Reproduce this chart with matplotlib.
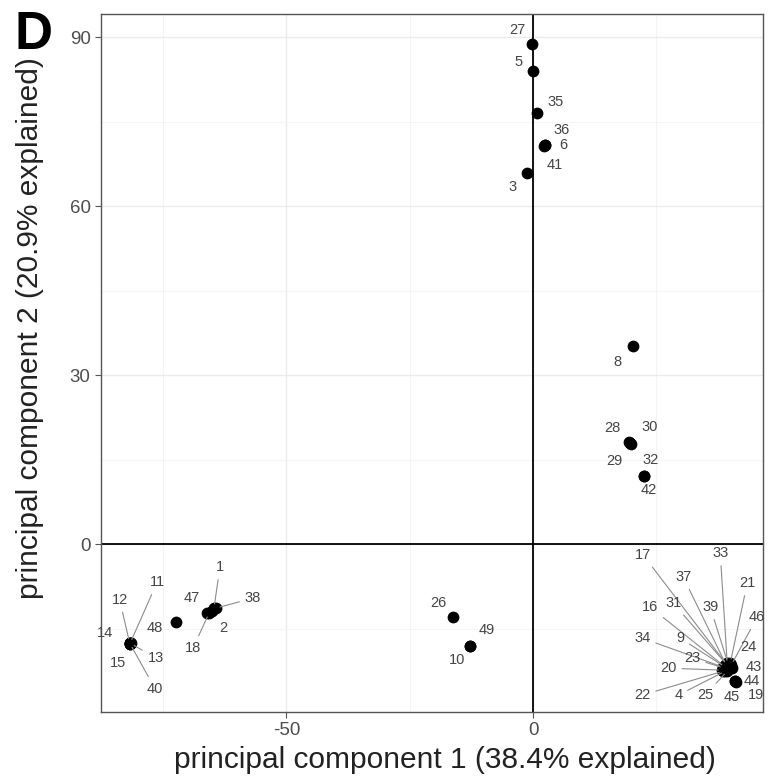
import matplotlib
matplotlib.use('Agg')
import matplotlib.pyplot as plt
import numpy as np

plt.rcParams['font.family'] = ['Liberation Sans', 'DejaVu Sans']
plt.rcParams['axes.unicode_minus'] = False

# sample ids and their PCA scores
samples = ['27', '5', '35', '36', '6', '41', '3',
           '8', '28', '30', '29', '32', '42',
           '17', '33', '37', '21', '16', '31', '39', '46', '34', '9', '24',
           '23', '20', '43', '22', '4', '25', '44', '45', '19',
           '11', '12', '14', '15', '13', '40',
           '48', '47', '1', '38', '2', '18',
           '26', '49', '10']
pc1 = [-0.2, 0.0, 0.8, 2.4, 2.4, 2.3, -1.2,
       20.3, 19.5, 19.9, 19.7, 22.5, 22.5,
       39.35, 39.35, 39.15, 39.96, 38.74, 39.15, 39.55, 40.16, 38.54, 38.95, 40.16,
       38.74, 38.34, 40.37, 38.54, 38.95, 39.35, 40.97, 40.97, 41.18,
       -81.7, -81.8, -81.7, -81.8, -81.6, -81.7,
       -72.4, -66.1, -64.7, -64.3, -65.1, -65.7,
       -16.2, -12.8, -12.8]
pc2 = [88.8, 84.0, 76.5, 70.8, 70.8, 70.6, 65.9,
       35.2, 18.2, 17.7, 17.9, 12.1, 12.1,
       -21.48, -21.13, -21.48, -21.13, -21.66, -21.30, -21.30, -21.48, -21.84, -21.84, -21.84,
       -22.01, -22.37, -22.01, -22.55, -22.55, -22.55, -24.32, -24.32, -24.50,
       -17.6, -17.5, -17.6, -17.7, -17.6, -17.7,
       -13.85, -12.25, -11.36, -11.36, -11.89, -12.25,
       -12.96, -18.11, -18.11]

# label offsets (pixels, like ggrepel placements)
lab_dx = [-15, -15, 19, 17, 18, 10, -15,
          -16, -17, 18, -16, 6, 5,
          -84, -7, -43, 17, -74, -53, -18, 26, -81, -45, 17,
          -32, -54, 21, -81, -47, -22, 17, -3, 20,
          27, -10, -25, -12, 25, 25,
          -21, -15, 6, 37, 11, -16,
          -15, 17, -13]
lab_dy = [14, 9, 11, 15, 0, -19, -14,
          -16, 14, 17, -18, 16, -14,
          110, 110, 88, 80, 59, 61, 57, 48, 29, 29, 20,
          10, 2, 1, -24, -24, -24, 0, -16, -13,
          61, 43, 10, -19, -15, -45,
          -6, 15, 41, 10, -17, -35,
          14, 16, -14]

x_ticks = [-50, 0]
y_ticks = [0, 30, 60, 90]


def main():
	fig = plt.figure(figsize=(7.7, 7.81), dpi=100)
	ax = fig.add_axes([101/770, 1-712/781, 662/770, 698/781])

	ax.set_xlim(-87.6, 46.6)
	ax.set_ylim(-29.8, 94.1)

	# theme_bw like grid
	ax.set_xticks(x_ticks)
	ax.set_yticks(y_ticks)
	ax.set_xticks([-75, -25, 25], minor=True)
	ax.set_yticks([-15, 15, 45, 75], minor=True)
	ax.grid(True, which='major', color='#ebebeb', lw=1.0)
	ax.grid(True, which='minor', color='#f3f3f3', lw=0.6)
	ax.set_axisbelow(True)
	for s in ax.spines.values():
		s.set_color('#555555')
		s.set_linewidth(1.0)
	ax.tick_params(which='major', length=4, color='#555555', labelsize=13.5, labelcolor='#4d4d4d')
	ax.tick_params(which='minor', length=0)

	ax.axhline(0, color='black', lw=1.3, zorder=1)
	ax.axvline(0, color='black', lw=1.3, zorder=1)

	ax.scatter(pc1, pc2, s=72, color='black', zorder=3, linewidths=0)

	for i in range(len(samples)):
		dx, dy = lab_dx[i], lab_dy[i]
		far = np.hypot(dx, dy) > 28
		ax.annotate(samples[i], (pc1[i], pc2[i]), xytext=(dx, dy),
		            textcoords='offset pixels', ha='center', va='center',
		            fontsize=10.5, color='#444444', zorder=4,
		            arrowprops=dict(arrowstyle='-', color='#8c8c8c', lw=0.8,
		                            shrinkA=2, shrinkB=3) if far else None)

	ax.set_xlabel('principal component 1 (38.4% explained)', fontsize=21.5, color='#222222')
	ax.set_ylabel('principal component 2 (20.9% explained)', fontsize=21.5, color='#222222')
	ax.xaxis.set_label_coords(0.52, -0.069)
	ax.xaxis.label.set_va('center')
	ax.yaxis.set_label_coords(-0.107, 0.55)
	ax.yaxis.label.set_va('center')

	fig.text(15/770, 1-10/781, 'D', fontsize=38, fontweight='bold', ha='left', va='top')

	fig.savefig('out.png', dpi=100)


if __name__ == '__main__':
	main()
